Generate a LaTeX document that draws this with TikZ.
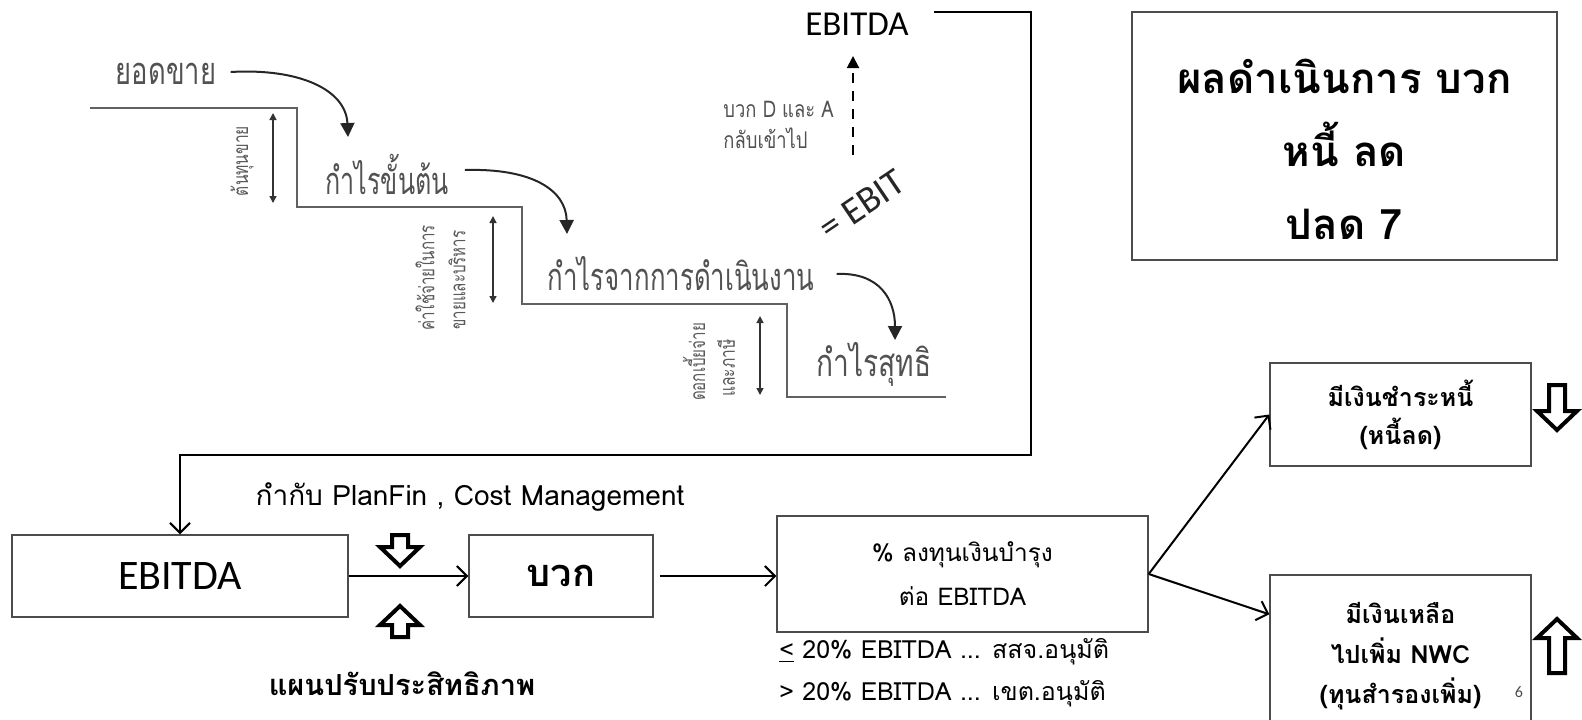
\documentclass[tikz,border=0pt]{standalone}
\usepackage{fontspec}
\usepackage{graphicx}
\setmainfont{Carlito}
\newfontfamily\thai[Script=Thai]{Loma}
\usetikzlibrary{arrows.meta}
\newcommand\sqz[2]{\scalebox{#1}[1]{#2}}
\begin{document}
\begin{tikzpicture}[x=0.5pt,y=-0.5pt,
  stair/.style={draw=black!62, line width=1.4pt},
  curvearr/.style={-{Triangle[length=7pt,width=7pt]}, line width=1pt, black!85},
  dbl/.style={{Triangle[length=3.5pt,width=3.5pt]}-{Triangle[length=3.5pt,width=3.5pt]}, line width=0.7pt, black!80},
  lbl/.style={text=black!68, font=\thai\fontsize{19}{21}\selectfont, inner sep=0pt},
  vlbl/.style={text=black!65, font=\thai\fontsize{10.5}{12}\selectfont, rotate=90, inner sep=0pt},
  box/.style={draw=black!70, line width=0.7pt, inner sep=0pt, align=center},
  conn/.style={-{Straight Barb[length=5pt,width=10pt]}, line width=1pt},
  blk/.style={draw=black, line width=2pt, fill=white, miter limit=10}
]
\newcommand\barrdown[3]{\path[blk,shift={(#1,#2)}] (-8,0)--(8,0)--(8,#3-19)--(20,#3-19)--(0,#3)--(-20,#3-19)--(-8,#3-19)--cycle;}
\newcommand\barrup[3]{\path[blk,shift={(#1,#2)}] (0,0)--(20,19)--(8,19)--(8,#3)--(-8,#3)--(-8,19)--(-20,19)--cycle;}
\useasboundingbox (0,0) rectangle (1582,719);

% ---------- staircase ----------
\draw[stair] (90,108) -- (297,108) -- (297,207) -- (522,207) -- (522,304)
  -- (787,304) -- (787,397) -- (946,397);

\node[lbl] (ys) at (166,74) {\sqz{0.72}{ยอดขาย}};
\node[lbl] (gp) at (387,174) {\sqz{0.66}{กำไรขั้นต้น}};
\node[lbl] (op) at (681,274) {\sqz{0.68}{กำไรจากการดำเนินงาน}};
\node[lbl] (np) at (874,364) {\sqz{0.74}{กำไรสุทธิ}};

\coordinate (a1) at (348,137);
\coordinate (a2) at (567,234);
\coordinate (a3) at (895,340);
\draw[curvearr] ([xshift=7pt,yshift=1pt]ys.east) .. controls (300,68) and (346,90) .. (a1);
\draw[curvearr] ([xshift=8pt,yshift=2pt]gp.east) .. controls (532,168) and (566,190) .. (a2);
\draw[curvearr] ([xshift=11pt]op.east) .. controls (880,272) and (895,300) .. (a3);

\draw[dbl] (273,113) -- (273,203);
\draw[dbl] (493,216) -- (493,303);
\draw[dbl] (760,316) -- (760,395);

\node[vlbl] (v1) at (242,161) {\sqz{0.74}{ต้นทุนขาย}};
\node[vlbl] (v2) at (425,278) {\sqz{0.72}{ค่าใช้จ่ายในการ}};
\node[vlbl] (v3) at (457,280) {\sqz{0.72}{ขายและบริหาร}};
\node[vlbl] (v4) at (694,362) {\sqz{0.72}{ดอกเบี้ยจ่าย}};
\node[vlbl] (v5) at (726,368) {\sqz{0.74}{และภาษี}};

% ---------- EBITDA / EBIT ----------
\node[font=\fontsize{17.5}{20}\selectfont, inner sep=0pt] (etop) at (857,24) {EBITDA};
\coordinate (dstart) at (853,155);
\coordinate (dend) at (853,56);
\draw[dashed, dash pattern=on 5pt off 4pt, line width=1pt, -{Triangle[length=6pt,width=6pt]}] (dstart) -- (dend);
\node[text=black!68, font=\thai\fontsize{11.5}{13}\selectfont, anchor=west, inner sep=0pt] (dl1) at (723,109) {\sqz{0.8}{บวก D และ A}};
\node[text=black!68, font=\thai\fontsize{11.5}{13}\selectfont, anchor=west, inner sep=0pt] (dl2) at (723,138) {\sqz{0.8}{กลับเข้าไป}};
\node[font=\fontsize{19}{21}\selectfont, rotate=34, inner sep=0pt, black!85] (ebit) at (862,205) {= EBIT};

\coordinate (c0) at (934,12);

% ---------- bottom flow ----------
\node[box, minimum width=168pt, minimum height=41pt, font=\fontsize{21}{24}\selectfont] (ebox) at (180,576) {EBITDA};
\node[box, minimum width=92pt, minimum height=41pt, font=\thai\bfseries\fontsize{19}{22}\selectfont] (bbox) at (561,576) {บวก};
\node[box, minimum width=185.5pt, minimum height=58pt, font=\thai\fontsize{12.2}{22}\selectfont] (pbox) at (962.5,574) {\% ลงทุนเงินบำรุง\\ต่อ EBITDA};

\draw[conn] (c0) -- (1031,12) -- (1031,455) -| (ebox.north);
\draw[conn] (ebox.east) -- (bbox.west);
\draw[conn] ([xshift=3pt]bbox.east) -- (pbox.west |- bbox.east);

\node[font=\thai\fontsize{14}{16}\selectfont, inner sep=0pt] (plan) at (470,497) {กำกับ PlanFin , Cost Management};
\barrdown{400}{535}{31}
\barrup{400}{606}{31}
\node[font=\thai\bfseries\fontsize{14.5}{17}\selectfont, inner sep=0pt] (eff) at (402,684) {แผนปรับประสิทธิภาพ};

\node[font=\thai\fontsize{12.5}{14}\selectfont, anchor=west, inner sep=0pt] (r1) at (779,652) {\underline{<} 20\% EBITDA ... สสจ.อนุมัติ};
\node[font=\thai\fontsize{12.5}{14}\selectfont, anchor=west, inner sep=0pt] (r2) at (779,694) {> 20\% EBITDA ... เขต.อนุมัติ};

% ---------- right boxes ----------
\node[box, minimum width=130.5pt, minimum height=51.5pt, font=\thai\bfseries\fontsize{12.5}{19}\selectfont] (rtop) at (1400.5,414.5) {มีเงินชำระหนี้\\(หนี้ลด)};
\node[box, minimum width=130.5pt, minimum height=80pt] (rbot) at (1400.5,655) {};
\node[font=\thai\bfseries\fontsize{12.5}{20}\selectfont, align=center, inner sep=0pt] (rbt) at (1400.5,656) {มีเงินเหลือ\\ไปเพิ่ม NWC\\(ทุนสำรองเพิ่ม)};
\node[font=\fontsize{8}{9}\selectfont, text=black!70, inner sep=0pt] (pg) at (1519,692) {6};

\draw[conn] (pbox.east) -- (rtop.west);
\draw[conn] (pbox.east) -- ([yshift=-20pt]rbot.north west);

\barrdown{1557}{385}{45}
\barrup{1557}{619}{54}

% ---------- big box ----------
\node[box, minimum width=212.5pt, minimum height=124pt] (big) at (1344.5,136) {};
\node[font=\thai\bfseries\fontsize{21}{36.5}\selectfont, align=center, inner sep=0pt] (bigt) at (1344.5,149) {ผลดำเนินการ บวก\\หนี้ ลด\\ปลด 7};
\end{tikzpicture}
\end{document}
